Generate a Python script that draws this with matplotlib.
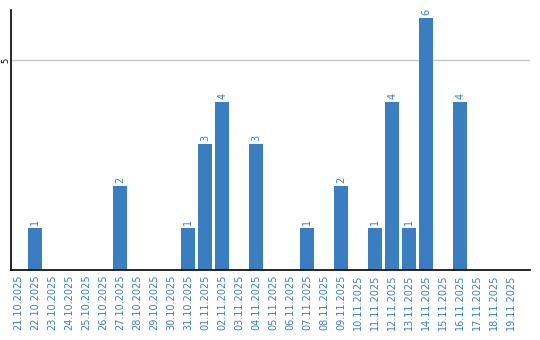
import matplotlib
matplotlib.use("Agg")
import matplotlib.pyplot as plt

dates = ["21.10.2025", "22.10.2025", "23.10.2025", "24.10.2025", "25.10.2025",
         "26.10.2025", "27.10.2025", "28.10.2025", "29.10.2025", "30.10.2025",
         "31.10.2025", "01.11.2025", "02.11.2025", "03.11.2025", "04.11.2025",
         "05.11.2025", "06.11.2025", "07.11.2025", "08.11.2025", "09.11.2025",
         "10.11.2025", "11.11.2025", "12.11.2025", "13.11.2025", "14.11.2025",
         "15.11.2025", "16.11.2025", "17.11.2025", "18.11.2025", "19.11.2025"]
counts = [0, 1, 0, 0, 0, 0, 2, 0, 0, 0,
          1, 3, 4, 0, 3, 0, 0, 1, 0, 2,
          0, 1, 4, 1, 6, 0, 4, 0, 0, 0]

blue = "#3a7ec2"

fig = plt.figure(figsize=(5.4, 3.4), dpi=100)
ax = fig.add_axes([11 / 540, 70 / 340, 519 / 540, 260 / 340])

x = list(range(len(dates)))
ax.bar(x, counts, width=0.82, color=blue, zorder=2)
for xi, v in zip(x, counts):
    if v > 0:
        ax.text(xi, v + 0.08, str(v), rotation=90, ha="center", va="bottom",
                color=blue, fontsize=7)

ax.set_xlim(-0.42, 30.1)
ax.set_ylim(0, 6.2)
ax.set_yticks([5])
ax.set_yticklabels(["5"], rotation=90, va="center", fontsize=6)
ax.axhline(5, color="#c8c8c8", linewidth=1, zorder=1)
ax.set_xticks(x)
ax.set_xticklabels(dates, rotation=90, color=blue, fontsize=7)
ax.tick_params(axis="x", length=0, pad=3)
ax.tick_params(axis="y", length=0, pad=0.5)
for s in ["top", "right"]:
    ax.spines[s].set_visible(False)
ax.spines["left"].set_linewidth(1.2)
ax.spines["bottom"].set_linewidth(1.2)

fig.savefig("out.png", dpi=100)
